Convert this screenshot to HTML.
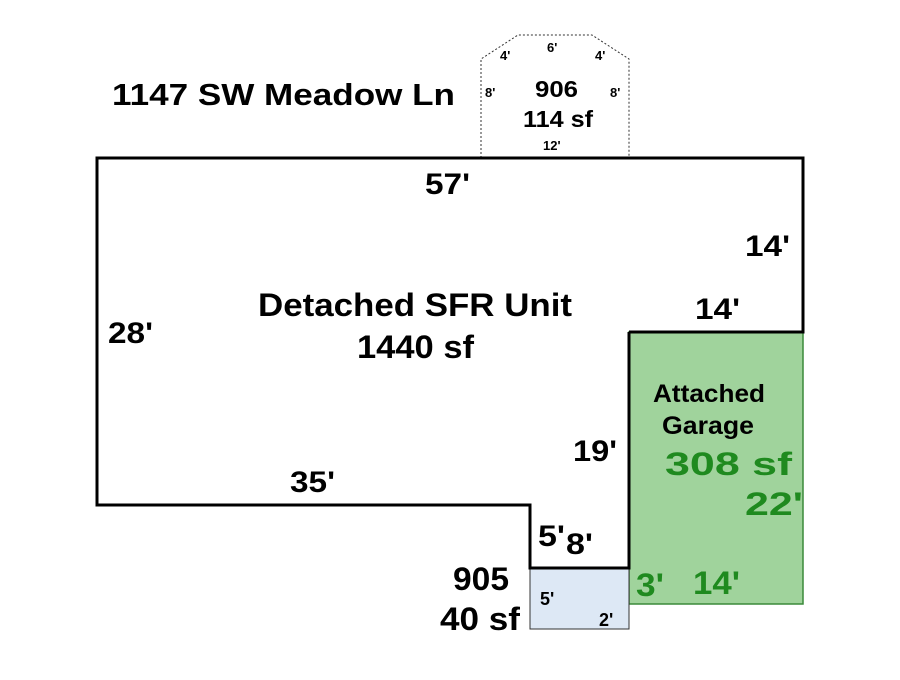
<!DOCTYPE html>
<html><head><style>
body{margin:0;background:#fff;}
svg text{font-family:"Liberation Sans",Arial,sans-serif;font-weight:bold;}
</style></head><body>
<svg width="900" height="675" viewBox="0 0 900 675" xmlns="http://www.w3.org/2000/svg">
<rect width="900" height="675" fill="#fff"/>
<polygon points="481,158 481,59 518,35 592,35 629,59 629,158" fill="none" stroke="#333" stroke-width="1" stroke-dasharray="2,2"/>
<rect x="629" y="332" width="174" height="272" fill="#a0d39c" stroke="#3a8a3a" stroke-width="1.5"/>
<rect x="530" y="568" width="99" height="61" fill="#dde8f5" stroke="#333" stroke-width="1"/>
<polyline points="629,332 803,332 803,158 97,158 97,505 530,505 530,568 629,568 629,332" fill="none" stroke="#000" stroke-width="3"/>
<g fill="#000">
<text x="112" y="105" font-size="31" textLength="343" lengthAdjust="spacingAndGlyphs">1147 SW Meadow Ln</text>
<text x="500" y="60" font-size="13">4'</text>
<text x="547" y="52" font-size="13">6'</text>
<text x="595" y="60" font-size="13">4'</text>
<text x="485" y="97" font-size="13">8'</text>
<text x="610" y="97" font-size="13">8'</text>
<text x="535" y="97" font-size="23" textLength="43" lengthAdjust="spacingAndGlyphs">906</text>
<text x="523" y="127" font-size="23" textLength="70" lengthAdjust="spacingAndGlyphs">114 sf</text>
<text x="543" y="150" font-size="13">12'</text>
<text x="425" y="194" font-size="30" textLength="45" lengthAdjust="spacingAndGlyphs">57'</text>
<text x="745" y="256" font-size="30" textLength="45" lengthAdjust="spacingAndGlyphs">14'</text>
<text x="695" y="319" font-size="30" textLength="45" lengthAdjust="spacingAndGlyphs">14'</text>
<text x="108" y="343" font-size="30" textLength="45" lengthAdjust="spacingAndGlyphs">28'</text>
<text x="258" y="316" font-size="32" textLength="314" lengthAdjust="spacingAndGlyphs">Detached SFR Unit</text>
<text x="357" y="358" font-size="32" textLength="117" lengthAdjust="spacingAndGlyphs">1440 sf</text>
<text x="290" y="492" font-size="30" textLength="45" lengthAdjust="spacingAndGlyphs">35'</text>
<text x="573" y="461" font-size="30" textLength="44" lengthAdjust="spacingAndGlyphs">19'</text>
<text x="538" y="546" font-size="30" textLength="27" lengthAdjust="spacingAndGlyphs">5'</text>
<text x="566" y="554" font-size="30" textLength="27" lengthAdjust="spacingAndGlyphs">8'</text>
<text x="453" y="590" font-size="32" textLength="56" lengthAdjust="spacingAndGlyphs">905</text>
<text x="440" y="630" font-size="32" textLength="80" lengthAdjust="spacingAndGlyphs">40 sf</text>
<text x="540" y="605" font-size="18">5'</text>
<text x="599" y="626" font-size="18">2'</text>
<text x="653" y="402" font-size="25" textLength="112" lengthAdjust="spacingAndGlyphs">Attached</text>
<text x="662" y="434" font-size="25" textLength="92" lengthAdjust="spacingAndGlyphs">Garage</text>
</g>
<g fill="#1f8a1f">
<text x="665" y="475" font-size="32" textLength="127" lengthAdjust="spacingAndGlyphs">308 sf</text>
<text x="745" y="515" font-size="32" textLength="58" lengthAdjust="spacingAndGlyphs">22'</text>
<text x="636" y="596" font-size="32" textLength="28" lengthAdjust="spacingAndGlyphs">3'</text>
<text x="693" y="594" font-size="32" textLength="47" lengthAdjust="spacingAndGlyphs">14'</text>
</g>
</svg>
</body></html>
